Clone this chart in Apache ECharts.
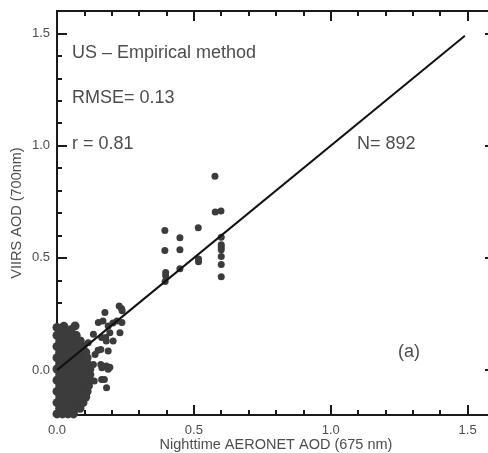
<!DOCTYPE html>
<html>
<head>
<meta charset="utf-8">
<script src="https://cdn.jsdelivr.net/npm/echarts@6/dist/echarts.min.js"></script>
<style>html,body{margin:0;padding:0;background:#fff}#c{width:488px;height:453px}</style>
</head>
<body>
<div id="c"></div>
<script>
// ---- data ----
var xTickValues = [0, 0.5, 1.0, 1.5];
var yTickValues = [0, 0.5, 1.0, 1.5];

// dense cloud near origin (row by row)
var cloudPoints = [
  [0,-0.195],[0.02,-0.195],[0.04,-0.195],[0.06,-0.195],
  [0.01,-0.17],[0.03,-0.17],[0.05,-0.17],[0.07,-0.17],[0.084,-0.17],
  [0,-0.145],[0.02,-0.145],[0.04,-0.145],[0.06,-0.145],[0.08,-0.145],[0.095,-0.145],
  [0.01,-0.12],[0.03,-0.12],[0.05,-0.12],[0.07,-0.12],[0.09,-0.12],[0.105,-0.12],
  [0,-0.095],[0.02,-0.095],[0.04,-0.095],[0.06,-0.095],[0.08,-0.095],[0.10,-0.095],[0.11,-0.095],
  [0.01,-0.07],[0.03,-0.07],[0.05,-0.07],[0.07,-0.07],[0.09,-0.07],[0.11,-0.07],[0.115,-0.07],
  [0,-0.045],[0.02,-0.045],[0.04,-0.045],[0.06,-0.045],[0.08,-0.045],[0.10,-0.045],[0.12,-0.045],
  [0.01,-0.02],[0.03,-0.02],[0.05,-0.02],[0.07,-0.02],[0.09,-0.02],[0.11,-0.02],[0.12,-0.02],
  [0,0.005],[0.02,0.005],[0.04,0.005],[0.06,0.005],[0.08,0.005],[0.10,0.005],[0.12,0.005],
  [0.01,0.03],[0.03,0.03],[0.05,0.03],[0.07,0.03],[0.09,0.03],[0.11,0.03],
  [0,0.055],[0.02,0.055],[0.04,0.055],[0.06,0.055],[0.08,0.055],[0.10,0.055],[0.11,0.055],
  [0.01,0.08],[0.03,0.08],[0.05,0.08],[0.07,0.08],[0.09,0.08],[0.105,0.08],
  [0,0.105],[0.02,0.105],[0.04,0.105],[0.06,0.105],[0.08,0.105],[0.095,0.105],
  [0.01,0.13],[0.03,0.13],[0.05,0.13],[0.07,0.13],[0.085,0.13],
  [0,0.155],[0.02,0.155],[0.04,0.155],[0.06,0.155],[0.07,0.155],
  [0.01,0.18],[0.03,0.18],[0.05,0.18],
  [0.0,0.19],[0.025,0.195],[0.066,0.197]
];

// scattered points away from the cloud
var outerPoints = [
  [0.577,0.864],[0.578,0.704],[0.599,0.709],[0.516,0.634],
  [0.394,0.622],[0.449,0.590],[0.394,0.533],[0.449,0.536],
  [0.397,0.435],[0.397,0.420],[0.395,0.395],[0.449,0.452],
  [0.517,0.495],[0.517,0.483],
  [0.600,0.592],[0.600,0.558],[0.600,0.548],[0.600,0.536],[0.600,0.506],[0.600,0.470],[0.600,0.416],
  [0.227,0.286],[0.236,0.273],[0.238,0.264],[0.175,0.257],
  [0.151,0.212],[0.168,0.219],[0.204,0.210],[0.219,0.219],[0.237,0.212],[0.187,0.197],
  [0.133,0.160],[0.193,0.167],[0.230,0.167],[0.163,0.145],[0.178,0.145],
  [0.205,0.130],[0.180,0.130],[0.114,0.122],
  [0.150,0.088],[0.187,0.085],[0.160,0.092],[0.139,0.070],
  [0.133,0.025],[0.160,0.025],[0.164,0.010],[0.180,0.018],[0.193,0.013],[0.187,0.004],
  [0.163,-0.042],[0.173,-0.042],[0.136,-0.049],[0.114,-0.072],[0.181,-0.079]
];

// regression (1:1) line endpoints
var fitLine = [[0, 0], [1.49, 1.49]];

var annotations = [
  {text: 'US \u2013 Empirical method', x: 72, y: 54},
  {text: 'RMSE= 0.13', x: 72, y: 99},
  {text: 'r = 0.81', x: 72, y: 145},
  {text: 'N= 892', x: 357, y: 145},
  {text: '(a)', x: 398, y: 353}
];

// ---- chart ----
var FONT = 'Liberation Sans, Arial, Helvetica, sans-serif';
var TXT = '#4d4d4d';
var AX = '#1a1a1a';

function makeAxis(dim, pos, major, showLabel, name, ticks) {
  var a = {
    type: 'value', position: pos, min: dim === 'x' ? 0 : -0.2, max: 1.6,
    interval: 0.1,
    splitLine: {show: false},
    axisLine: {show: true, onZero: false, lineStyle: {color: AX, width: 2}},
    axisTick: {show: true, inside: true, length: major ? 10 : 5, lineStyle: {color: AX, width: 2}},
    axisLabel: {show: showLabel, color: TXT, fontSize: 13, fontFamily: FONT,
      margin: dim === 'x' ? 9 : 7,
      formatter: function (v) { return v.toFixed(1); }}
  };
  if (major) {
    a.axisTick.customValues = ticks;
    a.axisLabel.customValues = ticks;
  }
  if (name) {
    a.name = name;
    a.nameLocation = 'middle';
    a.nameMoveOverlap = false;
    a.nameGap = dim === 'x' ? 22 : 33;
    a.nameTextStyle = {color: TXT, fontSize: 14.5, fontFamily: FONT};
  }
  return a;
}

var chart = echarts.init(document.getElementById('c'), null, {renderer: 'canvas'});
chart.setOption({
  animation: false,
  backgroundColor: '#fff',
  grid: {left: 57, top: 11, width: 438, height: 404, containLabel: false, outerBoundsMode: 'none'},
  xAxis: [
    makeAxis('x', 'bottom', true, true, 'Nighttime AERONET AOD (675 nm)', xTickValues),
    makeAxis('x', 'bottom', false, false),
    makeAxis('x', 'top', true, false, null, xTickValues),
    makeAxis('x', 'top', false, false)
  ],
  yAxis: [
    makeAxis('y', 'left', true, true, 'VIIRS AOD (700nm)', yTickValues),
    makeAxis('y', 'left', false, false),
    makeAxis('y', 'right', true, false, null, yTickValues),
    makeAxis('y', 'right', false, false)
  ],
  series: [
    {type: 'scatter', data: cloudPoints, symbolSize: 9, itemStyle: {color: '#3c3c3c', opacity: 1}, clip: true, silent: true},
    {type: 'scatter', data: outerPoints, symbolSize: 7, itemStyle: {color: '#3c3c3c', opacity: 1}, clip: true, silent: true},
    {type: 'line', data: fitLine, showSymbol: false, symbol: 'none', lineStyle: {color: '#111', width: 2}, silent: true}
  ],
  graphic: annotations.map(function (a) {
    return {type: 'text', left: a.x, top: a.y - 10, style: {text: a.text, fill: TXT, font: '18px ' + FONT}};
  })
});
</script>
</body>
</html>
